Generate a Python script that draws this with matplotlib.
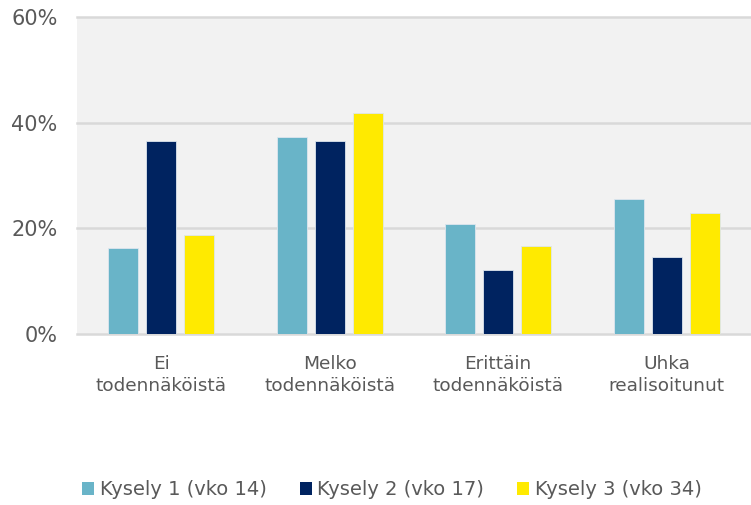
import numpy as np
import matplotlib.pyplot as plt
from matplotlib.patches import Patch

categories = ["Ei\ntodennäköistä", "Melko\ntodennäköistä", "Erittäin\ntodennäköistä", "Uhka\nrealisoitunut"]
series_names = ["Kysely 1 (vko 14)", "Kysely 2 (vko 17)", "Kysely 3 (vko 34)"]
kysely1 = [16.3, 37.2, 20.9, 25.6]
kysely2 = [36.5, 36.5, 12.1, 14.6]
kysely3 = [18.8, 41.8, 16.7, 22.9]
yticks = [0, 20, 40, 60]

colors = ["#69b4c8", "#002360", "#ffea00"]
txt = "#595959"

fig = plt.figure(figsize=(7.51, 5.05), dpi=100)
ax = fig.add_axes([77/751, 1 - 334/505, 1 - 77/751, (334 - 17)/505])
ax.set_facecolor("#f2f2f2")

x = np.arange(len(categories))
w = 0.178
step = 0.2255
for i, (vals, c) in enumerate(zip([kysely1, kysely2, kysely3], colors)):
    ax.bar(x + (i - 1) * step, vals, width=w, color=c, edgecolor="#dde6ee",
           linewidth=0.6, zorder=3, label=series_names[i])

ax.set_xlim(-0.5, len(categories) - 0.5)
ax.set_ylim(0, 60)
ax.set_yticks(yticks)
ax.set_yticklabels([f"{v}%" for v in yticks], fontsize=15, color=txt)
for v in yticks:
    ax.axhline(v, color="#d9d9d9", linewidth=1.8, zorder=1, clip_on=False)
ax.set_xticks(x)
ax.set_xticklabels(categories, fontsize=13.3, color=txt, linespacing=1.3)
ax.tick_params(axis="y", length=0, pad=14)
ax.tick_params(axis="x", length=0, pad=15)
for s in ax.spines.values():
    s.set_visible(False)

handles = [Patch(facecolor=c, edgecolor="none") for c in colors]
fig.legend(handles, series_names, loc="center", bbox_to_anchor=(0.522, 0.03),
           ncol=3, frameon=False, fontsize=14, labelcolor=txt,
           handlelength=0.6, handleheight=0.6, handletextpad=0.3, columnspacing=1.7)

fig.savefig("out.png", dpi=100, facecolor="white")
